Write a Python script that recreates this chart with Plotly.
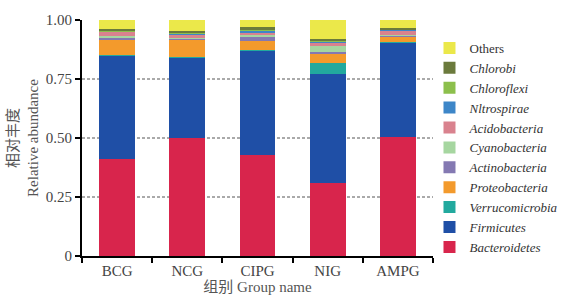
import plotly.graph_objects as go

groups = ["BCG", "NCG", "CIPG", "NIG", "AMPG"]

bacteroidetes = [0.41, 0.50, 0.43, 0.31, 0.505]
firmicutes = [0.44, 0.343, 0.44, 0.462, 0.40]
verrucomicrobia = [0.002, 0.002, 0.002, 0.045, 0.002]
proteobacteria = [0.064, 0.073, 0.04, 0.042, 0.022]
actinobacteria = [0.011, 0.004, 0.018, 0.005, 0.004]
cyanobacteria = [0.004, 0.003, 0.005, 0.025, 0.003]
acidobacteria = [0.02, 0.014, 0.01, 0.014, 0.02]
nitrospirae = [0.002, 0.002, 0.01, 0.004, 0.002]
chloroflexi = [0.002, 0.004, 0.003, 0.005, 0.002]
chlorobi = [0.006, 0.008, 0.011, 0.006, 0.006]
others = [0.039, 0.047, 0.031, 0.082, 0.034]

ytick_vals = [0, 0.25, 0.5, 0.75, 1.0]
ytick_text = ["0", "0.25", "0.50", "0.75", "1.00"]
grid_vals = [0.25, 0.5, 0.75]

series = [
    ("<i>Bacteroidetes</i>", bacteroidetes, "#d8254c"),
    ("<i>Firmicutes</i>", firmicutes, "#1f4fa6"),
    ("<i>Verrucomicrobia</i>", verrucomicrobia, "#22a99e"),
    ("<i>Proteobacteria</i>", proteobacteria, "#f39a2c"),
    ("<i>Actinobacteria</i>", actinobacteria, "#8479b2"),
    ("<i>Cyanobacteria</i>", cyanobacteria, "#a6d6a0"),
    ("<i>Acidobacteria</i>", acidobacteria, "#d9828e"),
    ("<i>Nltrospirae</i>", nitrospirae, "#3d86c8"),
    ("<i>Chloroflexi</i>", chloroflexi, "#8cbf4c"),
    ("<i>Chlorobi</i>", chlorobi, "#6b7a3c"),
    ("Others", others, "#ebe84a"),
]

fig = go.Figure()
for name, vals, col in series:
    fig.add_trace(go.Bar(x=groups, y=vals, name=name, marker=dict(color=col, line=dict(width=0))))

for v in grid_vals:
    fig.add_shape(type="line", xref="paper", yref="y", x0=0, x1=1, y0=v, y1=v,
                  line=dict(color="#555555", width=1, dash="3px,2px"), layer="below")

serif = "Liberation Serif, Noto Sans CJK SC"

fig.update_layout(
    width=586, height=304,
    margin=dict(l=80, r=153, t=18, b=48),
    paper_bgcolor="white", plot_bgcolor="white",
    barmode="stack", bargap=0.49,
    font=dict(family=serif, size=14, color="#333333"),
    showlegend=True,
    legend=dict(x=0.99, xanchor="left", y=0.46, yanchor="middle",
                traceorder="reversed", font=dict(family=serif, size=13, color="#333333"),
                tracegroupgap=0, itemwidth=30, bgcolor="rgba(0,0,0,0)"),
    xaxis=dict(showline=True, linecolor="black", linewidth=2, ticks="outside",
               tickson="boundaries", ticklen=5, tickwidth=2, tickcolor="black",
               tickfont=dict(family=serif, size=15, color="#444444"),
               title=dict(text="组别 Group name", font=dict(family=serif, size=15, color="#555555"), standoff=2)),
    yaxis=dict(range=[0, 1], showline=True, linecolor="black", linewidth=2, ticks="outside",
               ticklen=5, tickwidth=2, tickcolor="black", showgrid=False, zeroline=False,
               tickvals=ytick_vals, ticktext=ytick_text,
               tickfont=dict(family=serif, size=15, color="#444444"),
               title=dict(text="相对丰度<br>Relative abundance", font=dict(family=serif, size=15, color="#555555"), standoff=4)),
)

fig.write_html("out.html")
